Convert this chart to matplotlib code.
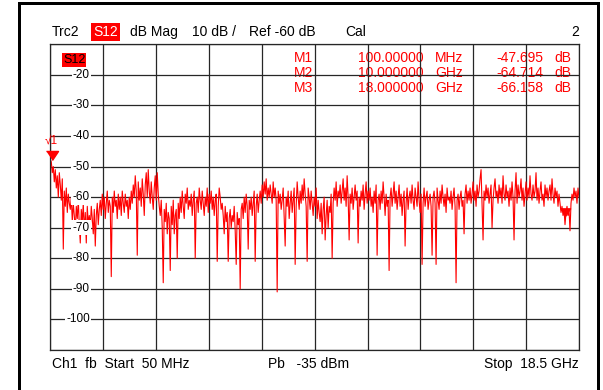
#!/usr/bin/env python3
"""
plot.py
Network analyser screen: S12 magnitude trace, 50 MHz .. 18.5 GHz.
Writes: out.png
"""

import numpy as np
import matplotlib
matplotlib.use("Agg")
import matplotlib.pyplot as plt
from matplotlib.lines import Line2D

# sweep
F_START = 0.05   # GHz
F_STOP  = 18.5   # GHz

# S12 trace in dB left to right (about one point per pixel)
s12_db = [
    -47.7, -48.5, -52, -50, -55, -51, -57, -53, -60, -52,
    -56, -61, -54, -77, -58, -63, -57, -65, -59, -62,
    -64, -60, -68, -62, -66, -71, -63, -67, -61, -69,
    -75, -64, -68, -62, -72, -65, -75, -63, -69, -66,
    -70, -63, -67, -72, -64, -76, -66, -62, -69, -64,
    -61, -66, -59, -64, -60, -67, -62, -58, -65, -61,
    -63, -86, -60, -65, -58, -63, -61, -67, -59, -64,
    -60, -66, -58, -62, -65, -59, -63, -61, -67, -60,
    -64, -58, -62, -56, -60, -53, -58, -79, -55, -61,
    -57, -63, -54, -59, -66, -56, -52, -60, -51, -58,
    -62, -55, -60, -64, -57, -53, -61, -52, -59, -63,
    -66, -61, -70, -88, -64, -68, -62, -72, -65, -67,
    -84, -63, -69, -61, -72, -66, -64, -80, -62, -67,
    -60, -65, -58, -63, -67, -59, -62, -57, -64, -61,
    -63, -59, -66, -61, -58, -80, -62, -60, -65, -57,
    -61, -64, -58, -62, -66, -60, -63, -57, -65, -59,
    -62, -58, -64, -60, -66, -61, -59, -81, -63, -57,
    -60, -64, -62, -66, -72, -63, -68, -65, -81, -67,
    -64, -70, -66, -68, -63, -71, -82, -65, -69, -67,
    -90, -64, -62, -67, -60, -65, -59, -63, -77, -61,
    -64, -60, -66, -62, -58, -81, -63, -59, -65, -61,
    -58, -62, -56, -60, -55, -59, -54, -61, -57, -60,
    -56, -59, -62, -55, -60, -57, -61, -91, -58, -62,
    -59, -64, -61, -57, -66, -76, -60, -63, -58, -67,
    -62, -58, -65, -61, -57, -82, -63, -55, -60, -64,
    -58, -62, -56, -61, -54, -59, -63, -81, -57, -60,
    -64, -58, -62, -66, -60, -63, -57, -67, -61, -65,
    -68, -62, -72, -64, -60, -74, -66, -61, -70, -63,
    -65, -59, -80, -62, -57, -61, -55, -63, -58, -60,
    -56, -62, -58, -54, -61, -57, -63, -53, -60, -74,
    -59, -62, -57, -64, -60, -56, -61, -58, -75, -60,
    -63, -58, -61, -56, -64, -59, -55, -62, -58, -61,
    -57, -63, -60, -65, -58, -62, -56, -79, -61, -59,
    -64, -58, -62, -55, -60, -66, -59, -63, -61, -84,
    -60, -57, -63, -59, -55, -62, -58, -64, -60, -56,
    -63, -59, -66, -61, -58, -76, -62, -57, -64, -60,
    -58, -62, -56, -61, -64, -57, -60, -63, -55, -61,
    -65, -59, -82, -62, -57, -63, -60, -58, -64, -61,
    -59, -63, -79, -60, -58, -62, -82, -57, -61, -64,
    -58, -62, -56, -60, -63, -59, -65, -57, -61, -60,
    -62, -58, -64, -60, -57, -63, -88, -61, -59, -64,
    -60, -58, -63, -61, -72, -59, -56, -62, -58, -61,
    -57, -62, -59, -55, -61, -58, -63, -56, -60, -58,
    -54, -51, -62, -74, -58, -61, -56, -60, -57, -62,
    -59, -56, -70, -61, -57, -54, -60, -58, -62, -56,
    -60, -57, -62, -53, -59, -61, -56, -60, -58, -63,
    -57, -61, -55, -60, -74, -58, -52, -62, -56, -60,
    -58, -54, -61, -57, -63, -59, -55, -61, -57, -60,
    -53, -59, -61, -56, -60, -58, -52, -61, -57, -62,
    -58, -55, -61, -59, -63, -56, -60, -57, -61, -58,
    -56, -61, -54, -59, -62, -57, -60, -58, -63, -59,
    -62, -65, -63, -66, -64, -69, -65, -63, -66, -64,
    -71, -62, -59, -61, -57, -60, -58, -62, -57, -60,
]

# markers
mk_names = ["M1", "M2", "M3"]
mk_freq  = [0.1, 10.0, 18.0]          # GHz
mk_freq_txt = ["100.00000", "10.000000", "18.000000"]
mk_unit  = ["MHz", "GHz", "GHz"]
mk_val   = [-47.695, -64.714, -66.158]

y_ticks = [-20, -30, -40, -50, -60, -70, -80, -90, -100]

W, H = 603, 390
FONT = "Liberation Sans"
RED = "#ff0000"

def fx(x):  # pixel -> figure fraction
    return x / W

def fy(y):
    return 1 - y / H

def ptext(x, y, s, **kw):
    kw.setdefault("fontsize", 10)
    kw.setdefault("family", FONT)
    kw.setdefault("va", "center")
    return fig.text(fx(x), fy(y), s, **kw)

fig = plt.figure(figsize=(W / 100, H / 100), dpi=100)
fig.patch.set_facecolor("white")

# grid area
L, R, T, B = 50.3, 579.0, 44.3, 350.0
ax = fig.add_axes([fx(L), fy(B), (R - L) / W, (B - T) / H])
ax.set_xlim(F_START, F_STOP)
ax.set_ylim(-110, -10)
ax.set_xticks(np.linspace(F_START, F_STOP, 11))
ax.set_yticks(np.arange(-110, -9, 10))
ax.tick_params(length=0, labelleft=False, labelbottom=False)
ax.grid(True, color="#262626", linewidth=0.9)
for s in ax.spines.values():
    s.set_color("#262626")
    s.set_linewidth(0.9)

freq = np.linspace(F_START, F_STOP, len(s12_db))
ax.plot(freq, s12_db, color=RED, linewidth=0.8, zorder=2)

# y labels sit inside the grid, blanking the line behind them
for v in y_ticks:
    ax.text(0.075, v, f"{v}", transform=ax.get_yaxis_transform(),
            ha="right", va="center", fontsize=8.5, family=FONT, color="black",
            zorder=3, bbox=dict(facecolor="white", edgecolor="none", pad=1.0))

# marker triangles, tip on the trace value
tri = [(-6, 9), (6, 9), (0, 0)]
ax.plot([mk_freq[0]], [mk_val[0]], marker=tri, markersize=13, color=RED,
        linestyle="none", zorder=4, clip_on=False)
ax.plot([mk_freq[2]], [mk_val[2]], marker=tri, markersize=11, color=RED,
        linestyle="none", zorder=4, clip_on=False)
ptext(51, 141, "\u221a1", color=RED, fontsize=8.5, ha="center")

# marker readout table (grid lines run over it)
row_y = [58, 73, 88]
for i in range(3):
    kw = dict(transform=fig.transFigure, fontsize=10, family=FONT, color=RED,
              va="center", zorder=1)
    ax.text(fx(313), fy(row_y[i]), mk_names[i], ha="right", **kw)
    ax.text(fx(424), fy(row_y[i]), mk_freq_txt[i], ha="right", **kw)
    ax.text(fx(435), fy(row_y[i]), mk_unit[i], ha="left", **kw)
    ax.text(fx(543), fy(row_y[i]), f"{mk_val[i]:.3f}", ha="right", **kw)
    ax.text(fx(571), fy(row_y[i]), "dB", ha="right", **kw)

# trace label box in the grid
ptext(63, 60, "S12", color="black", fontsize=9,
      bbox=dict(facecolor=RED, edgecolor="none", pad=0.6))

# header line
ptext(52, 32, "Trc2")
ptext(93, 32, "S12", color="white",
      bbox=dict(facecolor=RED, edgecolor="none", pad=1.6))
ptext(130, 32, "dB Mag")
ptext(192, 32, "10 dB /")
ptext(249, 32, "Ref -60 dB")
ptext(345, 32, "Cal")
ptext(579, 32, "2", ha="right")

# footer line
ptext(52, 364, "Ch1  fb  Start  50 MHz")
ptext(268, 364, "Pb   -35 dBm")
ptext(579, 364, "Stop  18.5 GHz", ha="right")

# outer bezel
lw = 3 * 72 / 100
fig.add_artist(Line2D([fx(18.5), fx(18.5)], [fy(2.5), fy(395)], color="black", linewidth=lw))
fig.add_artist(Line2D([fx(18.5), fx(598)], [fy(2.5), fy(2.5)], color="black", linewidth=lw))
fig.add_artist(Line2D([fx(598), fx(598)], [fy(2.5), fy(395)], color="black", linewidth=lw))

fig.savefig("out.png", dpi=100, facecolor="white")
plt.close(fig)
